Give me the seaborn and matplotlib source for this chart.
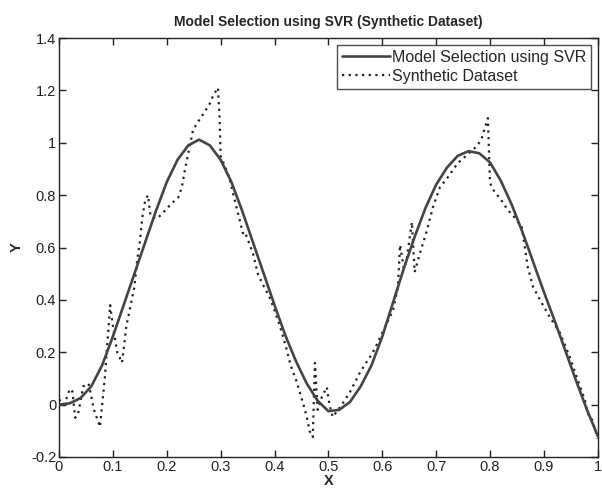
import numpy as np
import pandas as pd
import seaborn as sns
import matplotlib
matplotlib.use("Agg")
import matplotlib.pyplot as plt
from matplotlib.ticker import FuncFormatter

# SVR fit
svr_x = [0.00, 0.02, 0.04, 0.06, 0.08, 0.10, 0.12, 0.14, 0.16, 0.18,
         0.20, 0.22, 0.24, 0.26, 0.28, 0.30, 0.32, 0.34, 0.36, 0.38,
         0.40, 0.42, 0.44, 0.46, 0.48, 0.50, 0.52, 0.54, 0.56, 0.58,
         0.60, 0.62, 0.64, 0.66, 0.68, 0.70, 0.72, 0.74, 0.76, 0.78,
         0.80, 0.82, 0.84, 0.86, 0.88, 0.90, 0.92, 0.94, 0.96, 0.98, 1.00]
svr_y = [0.00, 0.005, 0.025, 0.07, 0.15, 0.26, 0.38, 0.50, 0.62, 0.74,
         0.85, 0.935, 0.99, 1.012, 0.99, 0.935, 0.85, 0.74, 0.62, 0.50,
         0.38, 0.265, 0.165, 0.08, 0.015, -0.025, -0.02, 0.01, 0.07, 0.15,
         0.26, 0.39, 0.52, 0.64, 0.75, 0.84, 0.905, 0.95, 0.968, 0.96,
         0.925, 0.855, 0.765, 0.66, 0.545, 0.43, 0.32, 0.205, 0.09, -0.02, -0.12]

# noisy synthetic data
syn_x = [0.000, 0.010, 0.020, 0.025, 0.030, 0.035, 0.045, 0.055, 0.065, 0.076,
         0.085, 0.095, 0.100, 0.108, 0.117, 0.125, 0.135, 0.140, 0.145, 0.150,
         0.155, 0.160, 0.165, 0.170, 0.180, 0.187, 0.210, 0.221, 0.228, 0.234,
         0.243, 0.249, 0.258, 0.271, 0.280, 0.286, 0.295, 0.298, 0.300, 0.310,
         0.317, 0.325, 0.336, 0.341, 0.345, 0.360, 0.369, 0.377, 0.391, 0.400,
         0.410, 0.420, 0.430, 0.440, 0.453, 0.460, 0.465, 0.471, 0.475, 0.478,
         0.480, 0.488, 0.497, 0.502, 0.508, 0.518, 0.527, 0.540, 0.558, 0.571,
         0.580, 0.590, 0.605, 0.620, 0.629, 0.633, 0.640, 0.645, 0.655, 0.660,
         0.670, 0.683, 0.694, 0.707, 0.722, 0.740, 0.757, 0.777, 0.785, 0.796,
         0.800, 0.809, 0.818, 0.833, 0.842, 0.859, 0.870, 0.880, 0.896, 0.911,
         0.930, 0.948, 0.961, 0.976, 0.981, 0.990, 1.000]
syn_y = [0.02, 0.00, 0.06, 0.05, -0.05, -0.04, 0.07, 0.08, -0.02, -0.085,
         0.10, 0.38, 0.30, 0.20, 0.16, 0.30, 0.40, 0.45, 0.55, 0.62,
         0.72, 0.78, 0.80, 0.72, 0.71, 0.72, 0.77, 0.79, 0.83, 0.90,
         0.99, 1.05, 1.08, 1.12, 1.15, 1.18, 1.21, 1.10, 0.95, 0.90,
         0.86, 0.79, 0.70, 0.655, 0.66, 0.578, 0.50, 0.464, 0.41, 0.36,
         0.30, 0.23, 0.15, 0.094, 0.006, -0.047, -0.10, -0.124, 0.159, 0.05,
         -0.02, 0.03, 0.067, 0.00, -0.047, -0.02, 0.006, 0.048, 0.12, 0.163,
         0.19, 0.23, 0.296, 0.36, 0.45, 0.61, 0.52, 0.55, 0.697, 0.506,
         0.579, 0.666, 0.754, 0.83, 0.869, 0.922, 0.953, 0.99, 1.02, 1.094,
         0.846, 0.81, 0.79, 0.743, 0.724, 0.678, 0.525, 0.449, 0.388, 0.334,
         0.273, 0.182, 0.105, 0.018, -0.032, -0.06, -0.13]

x_ticks = [0, 0.1, 0.2, 0.3, 0.4, 0.5, 0.6, 0.7, 0.8, 0.9, 1]
y_ticks = [-0.2, 0, 0.2, 0.4, 0.6, 0.8, 1, 1.2, 1.4]

sns.set_style("ticks")
plt.rcParams['font.family'] = ['Liberation Sans', 'DejaVu Sans']

fig = plt.figure(figsize=(6.02, 4.97), dpi=100)
ax = fig.add_axes([0.098, 0.0805, 0.895, 0.843])

svr = pd.DataFrame({"x": svr_x, "y": svr_y})
syn = pd.DataFrame({"x": syn_x, "y": syn_y})

sns.lineplot(data=svr, x="x", y="y", ax=ax, color="#444444", linewidth=1.9,
             label="Model Selection using SVR", zorder=3)
sns.lineplot(data=syn, x="x", y="y", ax=ax, color="#222222", linewidth=1.6,
             linestyle=(0, (1, 2)), label="Synthetic Dataset", zorder=2)

ax.set_xlim(0, 1)
ax.set_ylim(-0.2, 1.4)
ax.set_xticks(x_ticks)
ax.set_yticks(y_ticks)
fmt = FuncFormatter(lambda v, p: ("%g" % round(v, 2)))
ax.xaxis.set_major_formatter(fmt)
ax.yaxis.set_major_formatter(fmt)
ax.tick_params(direction="in", length=5, width=1, top=True, right=True,
               labelsize=10.5, colors="#222222", pad=2)
for s in ax.spines.values():
    s.set_color("#222222")
    s.set_linewidth(1)

ax.set_title("Model Selection using SVR (Synthetic Dataset)", fontsize=10,
             fontweight="bold", pad=9)
ax.set_xlabel("X", fontsize=10.5, fontweight="bold", labelpad=0)
ax.set_ylabel("Y", fontsize=10.5, fontweight="bold", labelpad=5)

leg = ax.legend(loc="upper right", fontsize=11.5, frameon=True, fancybox=False,
                edgecolor="#222222", handlelength=3.0, handletextpad=0.1,
                borderpad=0.3, labelspacing=0.25, borderaxespad=0.45)
leg.get_frame().set_linewidth(1)

fig.savefig("out.png", dpi=100)
